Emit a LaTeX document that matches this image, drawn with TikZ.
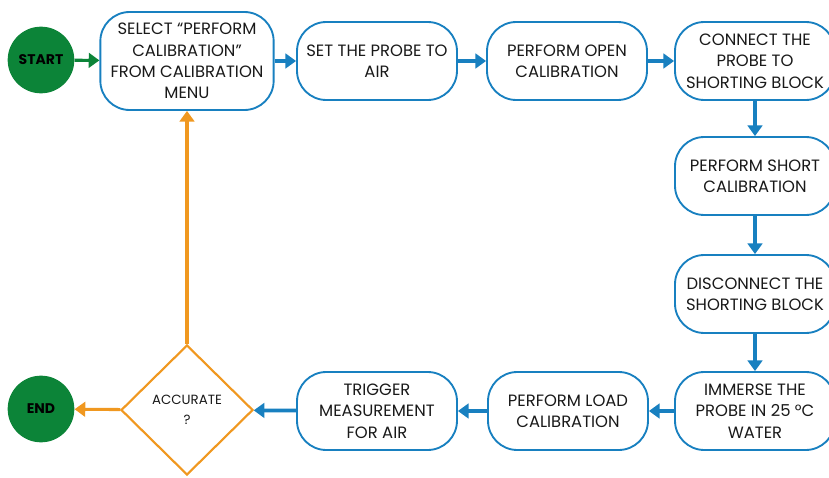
\documentclass[tikz,border=0pt]{standalone}
\usepackage{fontspec}
\setmainfont{Poppins}
\usetikzlibrary{shapes.geometric,arrows.meta}
\definecolor{flowblue}{RGB}{24,128,192}
\definecolor{flowgreen}{RGB}{12,132,56}
\definecolor{floworange}{RGB}{240,152,32}
\definecolor{textgray}{RGB}{25,25,25}

\begin{document}
\begin{tikzpicture}[x=0.75pt, y=-0.75pt,
    stepbox/.style={draw=flowblue, line width=1.4pt, rounded corners=22pt,
        minimum width=120pt, minimum height=58.5pt, inner sep=1pt,
        align=center, text=textgray, font=\fontsize{12.3}{16}\selectfont},
    terminal/.style={circle, fill=flowgreen, minimum size=50pt, inner sep=0pt,
        text=black, font=\fontsize{10.5}{12}\selectfont\bfseries},
    decision/.style={diamond, draw=floworange, line width=1.6pt, aspect=1,
        minimum width=99pt, minimum height=97.5pt, inner sep=0pt,
        align=center, text=textgray, font=\fontsize{10}{15}\selectfont},
    flow/.style={-{Triangle[length=8pt,width=11pt]}, line width=2.8pt, flowblue},
    back/.style={-{Triangle[length=8pt,width=11pt]}, line width=2.3pt, floworange},
    go/.style={-{Triangle[length=8pt,width=11pt]}, line width=2.3pt, flowgreen}]

    \clip (0,0) rectangle (829,478);

    % Terminals
    \node[terminal] (start) at (41,60) {START};
    \node[terminal] (finish) at (41,409) {END};

    % Top row
    \node[stepbox, minimum width=130pt, minimum height=73.5pt] (select) at (187,61)
        {SELECT “PERFORM\\CALIBRATION”\\FROM CALIBRATION\\MENU};
    \node[stepbox] (air) at (377,61) {SET THE PROBE TO\\AIR};
    \node[stepbox] (open) at (567,61) {PERFORM OPEN\\CALIBRATION};
    \node[stepbox] (connect) at (755,61) {CONNECT THE\\PROBE TO\\SHORTING BLOCK};

    % Right column
    \node[stepbox] (short) at (755,176) {PERFORM SHORT\\CALIBRATION};
    \node[stepbox] (disconnect) at (755,294) {DISCONNECT THE\\SHORTING BLOCK};
    \node[stepbox] (immerse) at (755,411) {IMMERSE THE\\PROBE IN 25 °C\\WATER};

    % Bottom row
    \node[stepbox] (load) at (568,411) {PERFORM LOAD\\CALIBRATION};
    \node[stepbox] (trigger) at (377,411) {TRIGGER\\MEASUREMENT\\FOR AIR};
    \node[decision] (accurate) at (187,410) {ACCURATE\\?};

    % Connectors
    \draw[go] (start) -- (select);
    \draw[flow] (select) -- (air);
    \draw[flow] (air) -- (open);
    \draw[flow] (open) -- (connect);
    \draw[flow] (connect) -- (short);
    \draw[flow] (short) -- (disconnect);
    \draw[flow] (disconnect) -- (immerse);
    \draw[flow] (immerse) -- (load);
    \draw[flow] (load) -- (trigger);
    \draw[flow] (trigger) -- (accurate);
    \draw[back] (accurate) -- (finish);
    \draw[back] (accurate) -- (select);
\end{tikzpicture}
\end{document}
